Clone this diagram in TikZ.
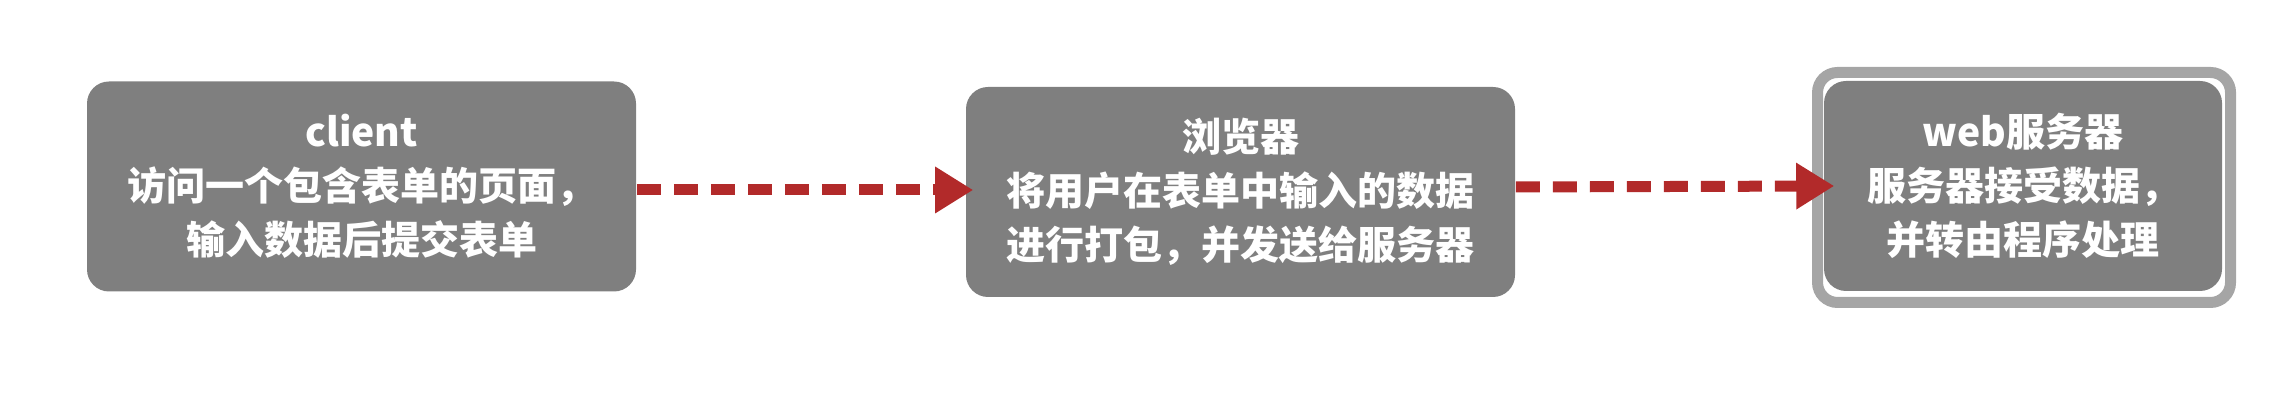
\documentclass[tikz,border=0pt]{standalone}
\usepackage{fontspec}
\setmainfont{Noto Sans CJK SC}
\usetikzlibrary{arrows.meta,calc}
\definecolor{boxgray}{RGB}{127,127,127}
\definecolor{framegray}{RGB}{165,165,165}
\definecolor{flowred}{RGB}{178,42,42}
\begin{document}
\begin{tikzpicture}[x=0.25pt,y=-0.25pt,
  stepbox/.style={fill=boxgray, rounded corners=5.5pt, text=white, align=center,
    minimum height=52.5pt, inner sep=0pt,
    font=\fontsize{9.75}{13.5}\selectfont\bfseries},
  framebox/.style={draw=framegray, line width=2.75pt, rounded corners=5pt,
    minimum width=103.25pt, minimum height=57.5pt, inner sep=0pt},
  flow/.style={draw=flowred, line width=2.75pt, dash pattern=on 6pt off 3.25pt,
    -{Triangle[length=9.5pt,width=11pt,fill=flowred]}}]
\useasboundingbox (0,0) rectangle (2286,402);
\node[stepbox, minimum width=137.25pt] (b1) at (361.5,186.5)
  {client\\访问一个包含表单的页面，\\输入数据后提交表单};
\node[stepbox, minimum width=137.25pt] (b2) at (1240.5,192)
  {浏览器\\将用户在表单中输入的数据\\进行打包，并发送给服务器};
\node[framebox] (f3) at (2024,187.5) {};
\node[stepbox, minimum width=99.5pt] (b3) at (2023,186)
  {web服务器\\服务器接受数据，\\并转由程序处理};
\draw[flow] ($(b1.east)+(0,3.5)$) -- ($(b2.west)+(8,-2)$);
\draw[flow] ($(b2.east)+(0,-5)$) -- ($(b3.west)+(11,0)$);
\end{tikzpicture}
\end{document}
